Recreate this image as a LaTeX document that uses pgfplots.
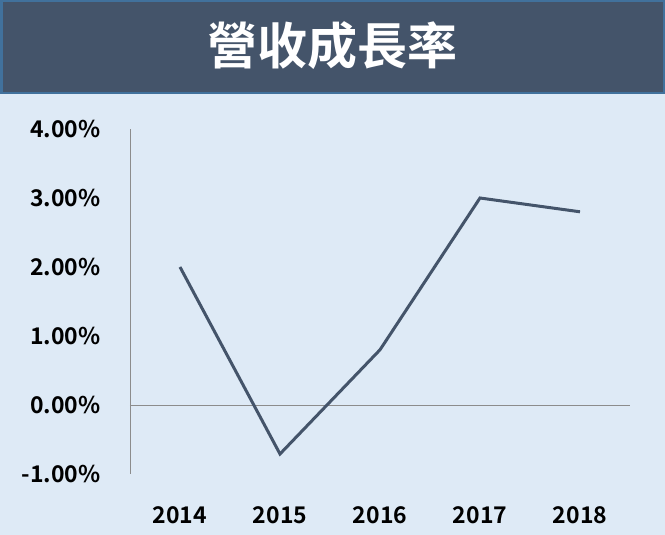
\documentclass[border=0pt]{standalone}
\usepackage{pgfplots}
\pgfplotsset{compat=1.18}
\usepackage{fontspec}
\setmainfont{Noto Sans CJK TC}[BoldFont={* Bold}]
\definecolor{bandfill}{HTML}{44546A}
\definecolor{bandborder}{HTML}{41719C}
\definecolor{bgfill}{HTML}{DEEAF6}
\definecolor{linec}{HTML}{44546A}
\definecolor{axisgray}{HTML}{8C8C8C}
\begin{document}
\begin{tikzpicture}[x=1pt,y=1pt]
\fill[bgfill] (0,0) rectangle (665,535);
\fill[bandfill, draw=bandborder, line width=2.5pt] (1.25,442) rectangle (663.75,533.75);
\node[text=white, font=\fontsize{50}{54}\selectfont\bfseries] at (332.5,489) {營收成長率};
\begin{axis}[
  at={(130pt,61pt)}, anchor=south west,
  width=500pt, height=345pt, scale only axis,
  xmin=-0.5, xmax=4.5, ymin=-1, ymax=4,
  axis x line=none,
  axis y line*=left,
  y axis line style={draw=axisgray, line width=0.8pt, -},
  ytick={-1,0,1,2,3,4},
  yticklabels={-1.00\%,0.00\%,1.00\%,2.00\%,3.00\%,4.00\%},
  major tick length=0pt,
  yticklabel style={font=\fontsize{23}{26}\selectfont\bfseries, anchor=east, xshift=-26pt},
  clip=false,
]
\addplot[draw=axisgray, line width=0.8pt, forget plot] coordinates {(-0.5,0) (4.5,0)};
\addplot[draw=linec, line width=3pt, line join=miter] coordinates {
  (0,2.00) (1,-0.71) (2,0.80) (3,3.00) (4,2.80)
};
\pgfplotsinvokeforeach{0,1,2,3,4}{
  \node[font=\fontsize{23}{26}\selectfont\bfseries] at (axis cs:#1,-1) [yshift=-41pt] {\pgfmathparse{int(2014+#1)}\pgfmathresult};
}
\end{axis}
\end{tikzpicture}
\end{document}
